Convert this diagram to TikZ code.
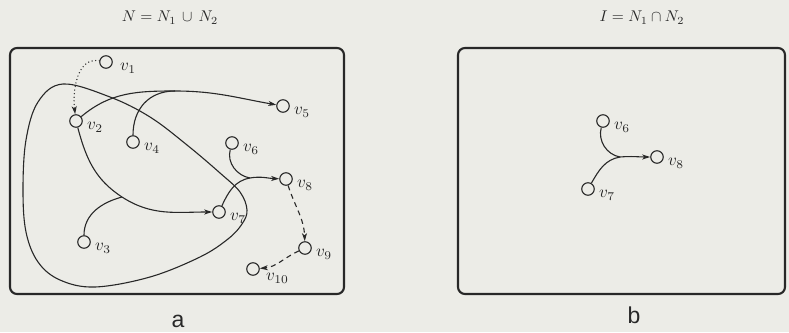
\RequirePackage{fix-cm}
\documentclass[tikz,border=0pt]{standalone}
\usepackage{fontspec}
\newfontfamily\capfont{Liberation Sans}
\usetikzlibrary{arrows.meta}
\definecolor{paper}{RGB}{236,236,231}
\definecolor{ink}{RGB}{40,40,40}
\newcommand{\vlab}[1]{\scalebox{1.7}{$v_{#1}$}}
\tikzset{
  vtx/.style={circle,draw=ink,line width=1.15pt,minimum size=12.5pt,inner sep=0pt},
  lbl/.style={anchor=north west,inner sep=0pt,xshift=4pt,yshift=-1pt,text=ink},
  edge/.style={draw=ink,line width=1.1pt},
  arr/.style={-{Stealth[length=8pt,width=5pt,inset=2.2pt]}},
  dashedge/.style={edge,dash pattern=on 5pt off 4pt},
  dotedge/.style={edge,line width=1.4pt,line cap=round,dash pattern=on 0pt off 3.6pt},
  frame/.style={draw=ink,line width=2.1pt,rounded corners=7pt},
  ttl/.style={anchor=base,text=ink},
  captxt/.style={anchor=base,font=\capfont\fontsize{23}{26}\selectfont,text=ink}
}
\begin{document}
\begin{tikzpicture}[x=1pt,y=1pt]
\useasboundingbox[fill=paper] (0,0) rectangle (789,332);

% titles
\node[ttl] (t1) at (170,310) {\scalebox{1.55}{$N = N_1 \,\cup\, N_2$}};
\node[ttl] (t2) at (642,310) {\scalebox{1.55}{$I = N_1 \cap N_2$}};

% frames
\draw[frame] (10,38) rectangle (344,284);
\draw[frame] (458,38) rectangle (785,284);

% captions
\node[captxt] (ca) at (178,4.5) {a};
\node[captxt] (cb) at (634,9) {b};

% nodes of a
\node[vtx,label={[lbl,xshift=3pt]east:\vlab{1}}] (v1) at (106,270) {};
\node[vtx,label={[lbl]east:\vlab{2}}] (v2) at (76,211) {};
\node[vtx,label={[lbl]east:\vlab{3}}] (v3) at (84,90) {};
\node[vtx,label={[lbl]east:\vlab{4}}] (v4) at (133,190) {};
\node[vtx,label={[lbl]east:\vlab{5}}] (v5) at (283,226) {};
\node[vtx,label={[lbl]east:\vlab{6}}] (v6) at (232,189) {};
\node[vtx,label={[lbl]east:\vlab{7}}] (v7) at (219,120) {};
\node[vtx,label={[lbl]east:\vlab{8}}] (v8) at (286,153) {};
\node[vtx,label={[lbl]east:\vlab{9}}] (v9) at (305,84) {};
\node[vtx,label={[lbl,xshift=2pt,yshift=-3pt]east:\vlab{10}}] (v10) at (253,63) {};

\coordinate (j1) at (175,241);
\coordinate (j2) at (122,135);
\coordinate (j3) at (250,154);

% closed loop
\draw[edge] plot[smooth cycle,tension=0.6] coordinates {
 (63,248) (110,235) (150,215) (187,187) (220,159) (240,140) (247,122)
 (242,108) (228,93) (200,75) (150,55) (95,45) (60,52) (38,70)
 (26,100) (23,142) (26,192) (38,230)};

% hyperedges
\draw[edge,arr] (v2) to[out=40,in=180] (j1) to[out=0,in=170] (v5);
\draw[edge] (v4) to[out=90,in=180,looseness=1.1] (j1);

\draw[edge,arr] (v2) to[out=-75,in=147] (j2) to[out=-33,in=180] (v7);
\draw[edge] (v3) to[out=90,in=195] (j2);

\draw[edge,arr] (v7) to[out=65,in=190] (j3) to[out=10,in=178] (v8);
\draw[edge] (v6) to[out=255,in=170] (j3);

\draw[dotedge,arr] (v1) to[out=170,in=97] (v2);
\draw[dashedge,arr] (v8) to[out=-72,in=92] (v9);
\draw[dashedge,arr] (v9) to[out=205,in=5] (v10);

% nodes of b
\node[vtx,label={[lbl]east:\vlab{6}}] (w6) at (603,211) {};
\node[vtx,label={[lbl]east:\vlab{8}}] (w8) at (657,175) {};
\node[vtx,label={[lbl]east:\vlab{7}}] (w7) at (588,143) {};
\coordinate (j4) at (620,175);

\draw[edge,arr] (w7) to[out=60,in=190] (j4) to[out=5,in=180] (w8);
\draw[edge] (w6) to[out=255,in=170] (j4);
\end{tikzpicture}
\end{document}
